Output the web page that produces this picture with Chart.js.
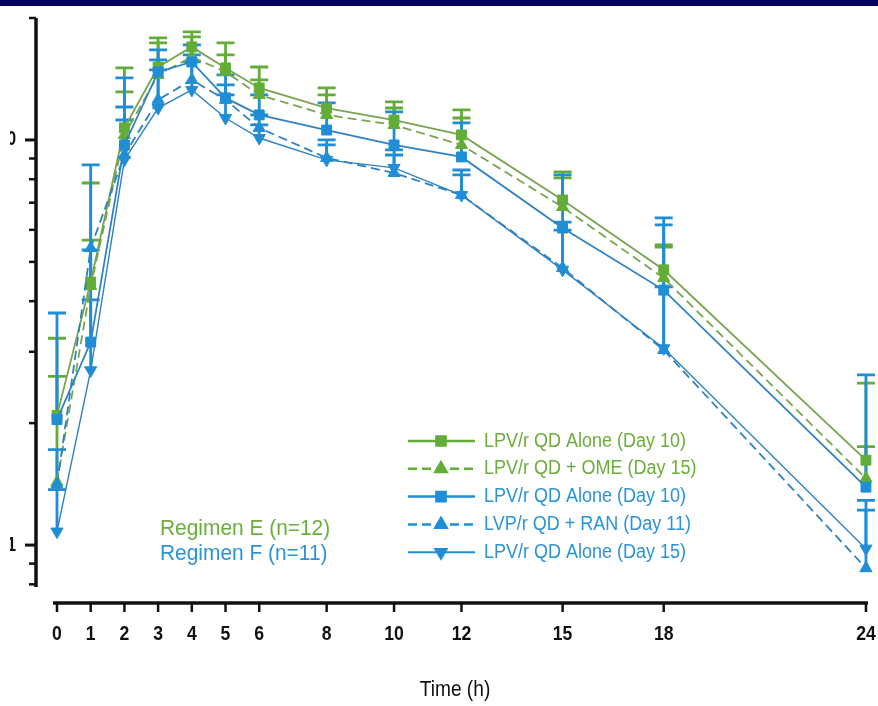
<!DOCTYPE html>
<html><head><meta charset="utf-8">
<script src="https://cdn.jsdelivr.net/npm/chart.js@4.4.1/dist/chart.umd.min.js"></script>
<style>
html,body{margin:0;padding:0;background:#fff;}
#wrap{position:relative;width:878px;height:706px;overflow:hidden;background:#fff;}
#bar{position:absolute;left:0;top:0;width:878px;height:6px;background:#03035c;z-index:2;}
canvas{position:absolute;left:0;top:0;}
</style></head><body>
<div id="wrap"><div id="bar"></div><canvas id="c" width="878" height="706"></canvas></div>
<script>
// ---- data ----
const times = [0, 1, 2, 3, 4, 5, 6, 8, 10, 12, 15, 18, 24];
const xTicks = [0, 1, 2, 3, 4, 5, 6, 8, 10, 12, 15, 18, 24];
const yMajorTicks = [1, 10];
const yMajorLabels = ['1', '10'];
const yMinorTicks = [0.8, 0.9, 2, 3, 4, 5, 6, 7, 8, 9, 20];
const xTitle = 'Time (h)';
const regimenLabels = ['Regimen E (n=12)', 'Regimen F (n=11)'];
const seriesNames = ['LPV/r QD Alone (Day 10)', 'LPV/r QD + OME (Day 15)', 'LPV/r QD Alone (Day 10)', 'LVP/r QD + RAN (Day 11)', 'LPV/r QD Alone (Day 15)'];

const eAloneDay10     = [2.09, 4.46, 10.71, 15.14, 16.97, 15.06, 13.44, 11.99, 11.20, 10.29, 7.11, 4.78, 1.62];
const eAloneDay10Up   = [3.24, 7.83, 15.06, 17.86, 18.48, 17.36, 15.14, 13.44, 12.41, 11.86, 8.34, 5.51, 2.51];
const eOmeDay15       = [1.43, 4.36, 10.29, 14.47, 16.03, 14.72, 12.92, 11.53, 10.89, 9.72, 6.83, 4.56, 1.46];
const eOmeDay15Up     = [2.61, 5.66, 13.14, 17.36, 17.96, 16.21, 14.07, 12.92, 11.99, 11.33, 8.06, 5.44, 1.75];
const fAloneDay10     = [2.04, 3.17, 9.72, 14.72, 15.58, 12.70, 11.53, 10.58, 9.72, 9.08, 6.06, 4.26, 1.39];
const fAloneDay10Up   = [3.74, 5.35, 14.23, 16.68, 17.16, 14.47, 12.92, 12.34, 11.73, 11.02, 8.20, 6.42, 2.63];
const fRanDay11       = [1.41, 5.41, 9.18, 12.56, 14.07, 12.56, 10.71, 9.03, 8.29, 7.31, 4.83, 3.03, 0.877];
const fRanDay11Up     = [1.72, 8.68, 12.06, 15.76, 16.21, 13.67, 11.53, 10.0, 9.45, 8.43, 6.27, 6.17, 1.29];
const fAloneDay15     = [1.08, 2.70, 8.93, 11.99, 13.29, 11.33, 10.11, 8.93, 8.53, 7.31, 4.78, 3.06, 0.98];
const fAloneDay15Up   = [1.37, 4.03, 11.20, 14.89, 15.58, 12.92, 10.89, 9.72, 9.18, 8.20, 5.99, 4.34, 1.22];

// ---- styles ----
const GREEN = '#62ad38', BLUE = '#1f8ed6';
const GREEN_LINE = '#78a450', BLUE_LINE = '#2f82c2';
const GREEN_TXT = '#6aae3c', BLUE_TXT = '#2d93d6';

function pts(vals){ return times.map((t,i)=>({x:t, y:vals[i]})); }
function ds(label, vals, up, color, lineColor, style, rot, dash, width, order){
  return {label, data: pts(vals), errUp: up, markColor: color, borderColor: lineColor, backgroundColor: color,
    pointBackgroundColor: color, pointBorderColor: color, pointStyle: style, pointRotation: rot,
    pointRadius: 7, pointBorderWidth: 1, borderWidth: width, borderDash: dash, tension: 0,
    clip: false, order};
}
const datasets = [
  ds(seriesNames[0], eAloneDay10, eAloneDay10Up, GREEN, GREEN_LINE, 'rect', 0, [], 1.8, 5),
  ds(seriesNames[1], eOmeDay15, eOmeDay15Up, GREEN, GREEN_LINE, 'triangle', 0, [9,5], 1.8, 4),
  ds(seriesNames[2], fAloneDay10, fAloneDay10Up, BLUE, BLUE_LINE, 'rect', 0, [], 1.8, 3),
  ds(seriesNames[3], fRanDay11, fRanDay11Up, BLUE, BLUE_LINE, 'triangle', 0, [9,5], 1.8, 2),
  ds(seriesNames[4], fAloneDay15, fAloneDay15Up, BLUE, BLUE_LINE, 'triangle', 180, [], 1.4, 1),
];

function fitText(ctx, text, x, y, sx, align){
  ctx.save();
  ctx.translate(x, y);
  ctx.scale(sx, 1);
  ctx.textAlign = align || 'left';
  ctx.fillText(text, 0, 0);
  ctx.restore();
}

const errorBars = {
  id: 'errorBars',
  beforeDatasetsDraw(chart){
    const ctx = chart.ctx, xs = chart.scales.x, ys = chart.scales.y;
    ctx.save();
    chart.data.datasets.forEach(d => {
      ctx.strokeStyle = d.markColor; ctx.lineWidth = 2.8; ctx.setLineDash([]);
      times.forEach((t,i)=>{
        const x = xs.getPixelForValue(t);
        const y0 = ys.getPixelForValue(d.data[i].y);
        const y1 = ys.getPixelForValue(d.errUp[i]);
        ctx.beginPath(); ctx.moveTo(x, y0); ctx.lineTo(x, y1);
        ctx.moveTo(x-9, y1); ctx.lineTo(x+9, y1); ctx.stroke();
      });
    });
    ctx.restore();
  }
};

const axesAndText = {
  id: 'axesAndText',
  afterDraw(chart){
    const ctx = chart.ctx, xs = chart.scales.x, ys = chart.scales.y;
    const ca = chart.chartArea;
    ctx.save();
    ctx.setLineDash([]);
    ctx.strokeStyle = '#111'; ctx.fillStyle = '#111';
    // y axis
    const yAxX = 36;
    ctx.lineWidth = 3.5;
    ctx.beginPath(); ctx.moveTo(yAxX, ca.top); ctx.lineTo(yAxX, ca.bottom); ctx.stroke();
    ctx.lineWidth = 2.5;
    yMinorTicks.forEach(v=>{ const y = ys.getPixelForValue(v);
      ctx.beginPath(); ctx.moveTo(yAxX, y); ctx.lineTo(yAxX-7, y); ctx.stroke(); });
    ctx.lineWidth = 3;
    yMajorTicks.forEach(v=>{ const y = ys.getPixelForValue(v);
      ctx.beginPath(); ctx.moveTo(yAxX, y); ctx.lineTo(yAxX-11, y); ctx.stroke(); });
    // y labels (cut off at the left edge in the source)
    ctx.save();
    ctx.beginPath(); ctx.rect(10, 0, 30, 706); ctx.clip();
    ctx.font = 'bold 20px "Liberation Sans", sans-serif';
    ctx.textBaseline = 'middle';
    yMajorTicks.forEach((v,i)=>{ fitText(ctx, yMajorLabels[i], 16, ys.getPixelForValue(v), 0.82, 'right'); });
    ctx.restore();
    // x axis
    const xAxY = 603;
    ctx.lineWidth = 3.5;
    ctx.beginPath(); ctx.moveTo(xs.getPixelForValue(0)-4, xAxY); ctx.lineTo(xs.getPixelForValue(24)+2, xAxY); ctx.stroke();
    ctx.lineWidth = 2.5;
    ctx.font = 'bold 21px "Liberation Sans", sans-serif';
    ctx.textBaseline = 'middle';
    xTicks.forEach(v=>{ const x = xs.getPixelForValue(v);
      ctx.beginPath(); ctx.moveTo(x, xAxY); ctx.lineTo(x, xAxY+9); ctx.stroke();
      fitText(ctx, String(v), x, 634, 0.84, 'center'); });
    // x title
    ctx.font = '22px "Liberation Sans", sans-serif';
    fitText(ctx, xTitle, 455, 690, 0.87, 'center');
    // regimen labels
    ctx.font = '22px "Liberation Sans", sans-serif';
    ctx.fillStyle = GREEN_TXT; fitText(ctx, regimenLabels[0], 160, 529, 0.95, 'left');
    ctx.fillStyle = BLUE_TXT; fitText(ctx, regimenLabels[1], 160, 554, 0.95, 'left');
    // legend
    ctx.font = '20px "Liberation Sans", sans-serif';
    chart.data.datasets.forEach((d,i)=>{
      const y = 441 + i*27.8;
      ctx.strokeStyle = d.markColor; ctx.lineWidth = d.borderWidth + 0.7;
      ctx.setLineDash(d.borderDash);
      ctx.beginPath(); ctx.moveTo(408, y); ctx.lineTo(475, y); ctx.stroke();
      ctx.setLineDash([]);
      ctx.fillStyle = d.markColor;
      Chart.helpers.drawPoint(ctx, {pointStyle: d.pointStyle, radius: 6.5, rotation: d.pointRotation, borderWidth: 1}, 441, y);
      ctx.fillStyle = i < 2 ? GREEN_TXT : BLUE_TXT;
      fitText(ctx, d.label, 484, y, 0.9, 'left');
    });
    ctx.restore();
  }
};

new Chart(document.getElementById('c'), {
  type: 'line',
  data: { datasets },
  options: {
    responsive: false, animation: false,
    layout: { padding: { left: 37, top: 18, right: 8, bottom: 119 } },
    scales: {
      x: { type: 'linear', min: -0.593, max: 24.12, display: false },
      y: { type: 'logarithmic', min: 0.788, max: 20, display: false }
    },
    plugins: { legend: { display: false }, tooltip: { enabled: false } },
    events: []
  },
  plugins: [errorBars, axesAndText]
});
</script>
</body></html>
